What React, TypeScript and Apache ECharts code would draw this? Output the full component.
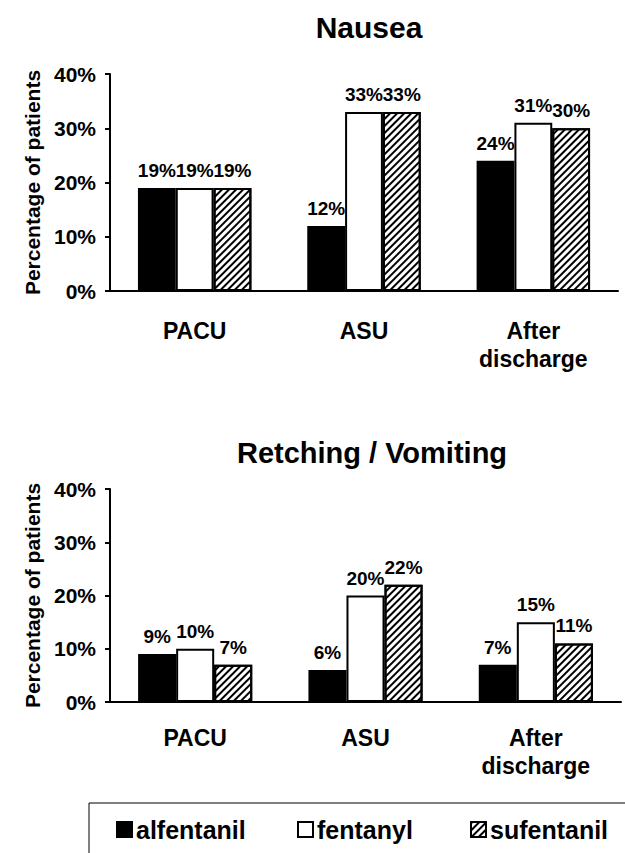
import React, { useEffect, useRef } from "react";
import * as echarts from "echarts";

const categories = ["PACU", "ASU", "After\ndischarge"];
const seriesNames = ["alfentanil", "fentanyl", "sufentanil"];
const nauseaAlfentanil = [19, 12, 24];
const nauseaFentanyl = [19, 33, 31];
const nauseaSufentanil = [19, 33, 30];
const vomitAlfentanil = [9, 6, 7];
const vomitFentanyl = [10, 20, 15];
const vomitSufentanil = [7, 22, 11];
const titles = ["Nausea", "Retching / Vomiting"];
const yAxisName = "Percentage of patients";

const FONT = "'Liberation Sans', Arial, sans-serif";

const hatch = {
  symbol: "rect",
  symbolSize: 1,
  color: "#000",
  backgroundColor: "#fff",
  dashArrayX: [1, 0],
  dashArrayY: [1.4, 2.6],
  rotation: -Math.PI / 4,
};

const styles = [
  { color: "#000" },
  { color: "#fff" },
  { color: "#fff", decal: hatch },
];

function makeSeries(values: number[][], gridIdx: number) {
  return values.map((v, i) => ({
    type: "bar",
    name: seriesNames[i],
    xAxisIndex: gridIdx,
    yAxisIndex: gridIdx,
    data: v,
    barGap: "0%",
    barCategoryGap: "33%",
    itemStyle: { ...styles[i], borderColor: "#000", borderWidth: 2 },
    label: {
      show: true,
      position: "top",
      distance: 8,
      formatter: "{c}%",
      fontSize: 19,
      fontWeight: "bold",
      color: "#000",
      fontFamily: FONT,
    },
  }));
}

function makeYAxis(gridIdx: number) {
  return {
    type: "value",
    gridIndex: gridIdx,
    min: 0,
    max: 40,
    interval: 10,
    name: yAxisName,
    nameLocation: "middle",
    nameGap: 65,
    nameTextStyle: { fontSize: 21, fontWeight: "bold", color: "#000", fontFamily: FONT },
    axisLine: { show: true, lineStyle: { color: "#000", width: 2 } },
    axisTick: { show: true, length: 5, lineStyle: { color: "#000", width: 2 } },
    splitLine: { show: false },
    axisLabel: {
      formatter: "{value}%",
      fontSize: 21,
      fontWeight: "bold",
      color: "#000",
      margin: 14,
      fontFamily: FONT,
    },
  };
}

function makeXAxis(gridIdx: number, margin: number) {
  return {
    type: "category",
    gridIndex: gridIdx,
    data: categories,
    axisLine: { show: true, lineStyle: { color: "#000", width: 2 } },
    axisTick: { show: false },
    axisLabel: {
      fontSize: 23,
      fontWeight: "bold",
      color: "#000",
      margin,
      lineHeight: 28,
      fontFamily: FONT,
      interval: 0,
    },
  };
}

const legendLefts = [116, 297, 470];

export default function App() {
  const ref = useRef<HTMLDivElement>(null);
  useEffect(() => {
    document.body.style.margin = "0";
    if (!ref.current) return;
    const chart = echarts.init(ref.current, null, { renderer: "svg" });
    chart.setOption({
      animation: false,
      backgroundColor: "#fff",
      textStyle: { fontFamily: FONT },
      title: [
        {
          text: titles[0],
          left: 369,
          top: 12,
          textAlign: "center",
          padding: 0,
          textStyle: { fontSize: 30, fontWeight: "bold", color: "#000", fontFamily: FONT },
        },
        {
          text: titles[1],
          left: 372,
          top: 438,
          textAlign: "center",
          padding: 0,
          textStyle: { fontSize: 29, fontWeight: "bold", color: "#000", fontFamily: FONT },
        },
      ],
      legend: seriesNames.map((n, i) => ({
        data: [n],
        left: legendLefts[i],
        top: 817,
        padding: 0,
        itemWidth: 15,
        itemHeight: 15,
        itemGap: 4,
        icon: "rect",
        selectedMode: false,
        textStyle: { fontSize: 25, fontWeight: "bold", color: "#000", fontFamily: FONT, padding: [0, 0, 0, -1] },
      })),
      graphic: [
        {
          type: "rect",
          shape: { x: 89, y: 803, width: 600, height: 100 },
          style: { fill: "none", stroke: "#000", lineWidth: 1 },
          silent: true,
        },
      ],
      grid: [
        { left: 110, top: 74, width: 508, height: 217 },
        { left: 110, top: 489, width: 511, height: 213 },
      ],
      xAxis: [makeXAxis(0, 26), makeXAxis(1, 22)],
      yAxis: [makeYAxis(0), makeYAxis(1)],
      series: [
        ...makeSeries([nauseaAlfentanil, nauseaFentanyl, nauseaSufentanil], 0),
        ...makeSeries([vomitAlfentanil, vomitFentanyl, vomitSufentanil], 1),
      ],
    });
    return () => chart.dispose();
  }, []);
  return <div ref={ref} style={{ width: 625, height: 853 }} />;
}
